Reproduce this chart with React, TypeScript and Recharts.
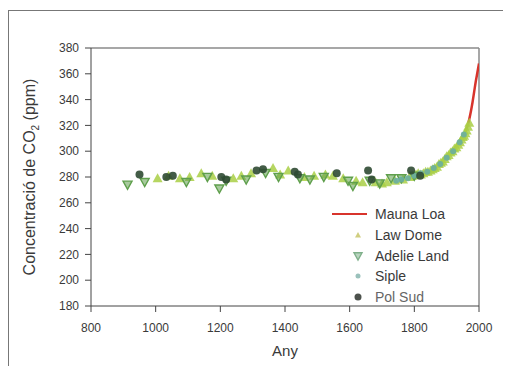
import React from "react";
import {
  ComposedChart,
  Scatter,
  Line,
  XAxis,
  YAxis,
  ReferenceLine,
} from "recharts";

// ── Data ─────────────────────────────────────────────────────────────────────

const X_TICKS = [800, 1000, 1200, 1400, 1600, 1800, 2000];
const Y_TICKS = [180, 200, 220, 240, 260, 280, 300, 320, 340, 360, 380];

const LEGEND_NAMES = ["Mauna Loa", "Law Dome", "Adelie Land", "Siple", "Pol Sud"];

const MAUNA_LOA_YEARS = [1958, 1962, 1966, 1970, 1975, 1980, 1985, 1990, 1995, 2000];
const MAUNA_LOA_PPM = [315, 318, 321, 325, 331, 338, 346, 354, 361, 368];

const LAW_DOME_YEARS = [
  1006, 1040, 1075, 1105, 1141, 1175, 1240, 1265, 1295, 1363, 1385, 1410, 1460, 1490,
  1525, 1548, 1580, 1620, 1640, 1680, 1700, 1715, 1740, 1765, 1785,
  1795, 1805, 1812, 1820, 1828, 1835, 1842, 1850, 1857, 1863, 1870, 1876, 1882, 1888,
  1894, 1900, 1906, 1912, 1918, 1924, 1930, 1936, 1941, 1946, 1950, 1954, 1958, 1962,
  1966, 1970,
];
const LAW_DOME_PPM = [
  279, 281, 279, 280, 283, 281, 279, 281, 283, 287, 282, 285, 280, 281,
  282, 281, 279, 277, 276, 276, 275, 276, 277, 278, 280,
  281, 282, 283, 282, 283, 284, 284, 285, 286, 287, 288, 290, 291, 292,
  294, 296, 297, 299, 300, 302, 303, 305, 307, 309, 311, 312, 314, 316,
  319, 322,
];

const ADELIE_YEARS = [913, 966, 1095, 1160, 1197, 1218, 1280, 1340, 1380, 1446, 1477, 1520, 1595, 1610, 1662, 1693, 1728, 1760, 1800];
const ADELIE_PPM = [274, 276, 276, 280, 271, 277, 278, 283, 280, 279, 278, 280, 277, 273, 277, 275, 279, 279, 281];

const SIPLE_YEARS = [1744, 1760, 1780, 1800, 1820, 1840, 1860, 1880, 1900, 1920, 1940, 1953];
const SIPLE_PPM = [277, 278, 279, 281, 283, 284, 287, 290, 295, 300, 307, 313];

const POL_SUD_YEARS = [950, 1033, 1053, 1203, 1218, 1312, 1332, 1430, 1440, 1560, 1657, 1668, 1790, 1818];
const POL_SUD_PPM = [282, 280, 281, 280, 278, 285, 286, 284, 282, 283, 285, 278, 285, 281];

const zip = (xs: number[], ys: number[]) => xs.map((year, i) => ({ year, ppm: ys[i] }));

const maunaLoa = zip(MAUNA_LOA_YEARS, MAUNA_LOA_PPM);
const lawDome = zip(LAW_DOME_YEARS, LAW_DOME_PPM);
const adelie = zip(ADELIE_YEARS, ADELIE_PPM);
const siple = zip(SIPLE_YEARS, SIPLE_PPM);
const polSud = zip(POL_SUD_YEARS, POL_SUD_PPM);

// ── Styles ───────────────────────────────────────────────────────────────────

const FONT = "'Liberation Sans', Arial, sans-serif";
const C_RED = "#d8342c";
const C_LAW = "#a9cf45";
const C_ADELIE = "#5f9f4c";
const C_SIPLE = "#6aaea0";
const C_POL = "#2f4a33";
const C_AXIS = "#444";
const C_TEXT = "#3a3a3a";

// ── Marker shapes ────────────────────────────────────────────────────────────

function TriUp({ cx, cy, fill, s = 4 }: any) {
  return <path d={`M${cx},${cy - s} L${cx + s},${cy + s * 0.8} L${cx - s},${cy + s * 0.8} Z`} fill={fill} fillOpacity={0.85} />;
}

function TriDown({ cx, cy, fill, s = 4.5 }: any) {
  return <path d={`M${cx - s},${cy - s * 0.8} L${cx + s},${cy - s * 0.8} L${cx},${cy + s} Z`} fill={fill} fillOpacity={0.55} stroke={fill} strokeWidth={1.4} />;
}

function Dot({ cx, cy, fill, r = 4 }: any) {
  return <circle cx={cx} cy={cy} r={r} fill={fill} fillOpacity={0.9} />;
}

// ── Legend ───────────────────────────────────────────────────────────────────

function LegendIcon({ i }: { i: number }) {
  if (i === 0) return <line x1={0} y1={8} x2={35} y2={8} stroke={C_RED} strokeWidth={2} />;
  if (i === 1) return <TriUp cx={26} cy={8} fill="#c8c66a" s={3} />;
  if (i === 2) return <TriDown cx={26} cy={8} fill="#7fb08a" s={4} />;
  if (i === 3) return <Dot cx={26} cy={8} fill="#8fbab4" r={2.5} />;
  return <Dot cx={26} cy={8} fill="#3a3f3a" r={3.5} />;
}

function CustomLegend() {
  return (
    <div style={{ fontFamily: FONT, fontSize: 14, color: C_TEXT }}>
      {LEGEND_NAMES.map((name, i) => (
        <div key={name} style={{ display: "flex", alignItems: "center", height: 20.7 }}>
          <svg width={35} height={16} style={{ marginRight: 8 }}>
            <LegendIcon i={i} />
          </svg>
          <span style={{ color: i === 4 ? "#666" : C_TEXT }}>{name}</span>
        </div>
      ))}
    </div>
  );
}

// ── Component ────────────────────────────────────────────────────────────────

export default function App() {
  return (
    <div
      style={{
        marginTop: 2,
        width: 502,
        height: 355,
        borderTop: "1px solid #777",
        borderLeft: "1px solid #777",
        position: "relative",
        background: "#fff",
      }}
    >
      <ComposedChart width={500} height={362} margin={{ top: 37, right: 30, bottom: 17, left: 0 }}>
        <XAxis
          type="number"
          dataKey="year"
          domain={[800, 2000]}
          ticks={X_TICKS}
          allowDataOverflow
          height={50}
          stroke={C_AXIS}
          tickSize={6}
          tickMargin={11}
          tick={{ fill: C_TEXT, fontSize: 12, fontFamily: FONT }}
          label={{
            content: ({ viewBox }: any) => (
              <text x={viewBox.x + viewBox.width / 2} y={viewBox.y + 50} textAnchor="middle" fontSize={15} fontFamily={FONT} fill={C_TEXT}>
                Any
              </text>
            ),
          }}
        />
        <YAxis
          type="number"
          dataKey="ppm"
          domain={[180, 380]}
          ticks={Y_TICKS}
          allowDataOverflow
          width={82}
          stroke={C_AXIS}
          tickSize={6}
          tickMargin={6}
          tick={{ fill: C_TEXT, fontSize: 12, fontFamily: FONT }}
          label={{
            content: ({ viewBox }: any) => {
              const x = viewBox.x + 26;
              const y = viewBox.y + viewBox.height / 2;
              return (
                <text x={x} y={y} transform={`rotate(-90 ${x} ${y})`} textAnchor="middle" fontSize={16} fontFamily={FONT} fill={C_TEXT}>
                  <tspan>Concentració de CO</tspan>
                  <tspan fontSize={10} dy={4}>2</tspan>
                  <tspan dy={-4}>{"  (ppm)"}</tspan>
                </text>
              );
            },
          }}
        />

        {/* plot frame (top / right) */}
        <ReferenceLine y={380} stroke="#8a8a8a" strokeWidth={1.5} />
        <ReferenceLine x={2000} stroke="#8a8a8a" strokeWidth={1.5} />

        <Scatter data={lawDome} fill={C_LAW} shape={(p: any) => <TriUp {...p} s={5} />} isAnimationActive={false} />
        <Scatter data={adelie} fill={C_ADELIE} shape={(p: any) => <TriDown {...p} />} isAnimationActive={false} />
        <Scatter data={siple} fill={C_SIPLE} shape={(p: any) => <Dot {...p} r={3} />} isAnimationActive={false} />
        <Scatter data={polSud} fill={C_POL} shape={(p: any) => <Dot {...p} r={4} />} isAnimationActive={false} />

        <Line
          data={maunaLoa}
          dataKey="ppm"
          type="monotone"
          stroke={C_RED}
          strokeWidth={2.5}
          dot={false}
          isAnimationActive={false}
        />
      </ComposedChart>

      <div style={{ position: "absolute", left: 323, top: 193 }}>
        <CustomLegend />
      </div>
    </div>
  );
}
